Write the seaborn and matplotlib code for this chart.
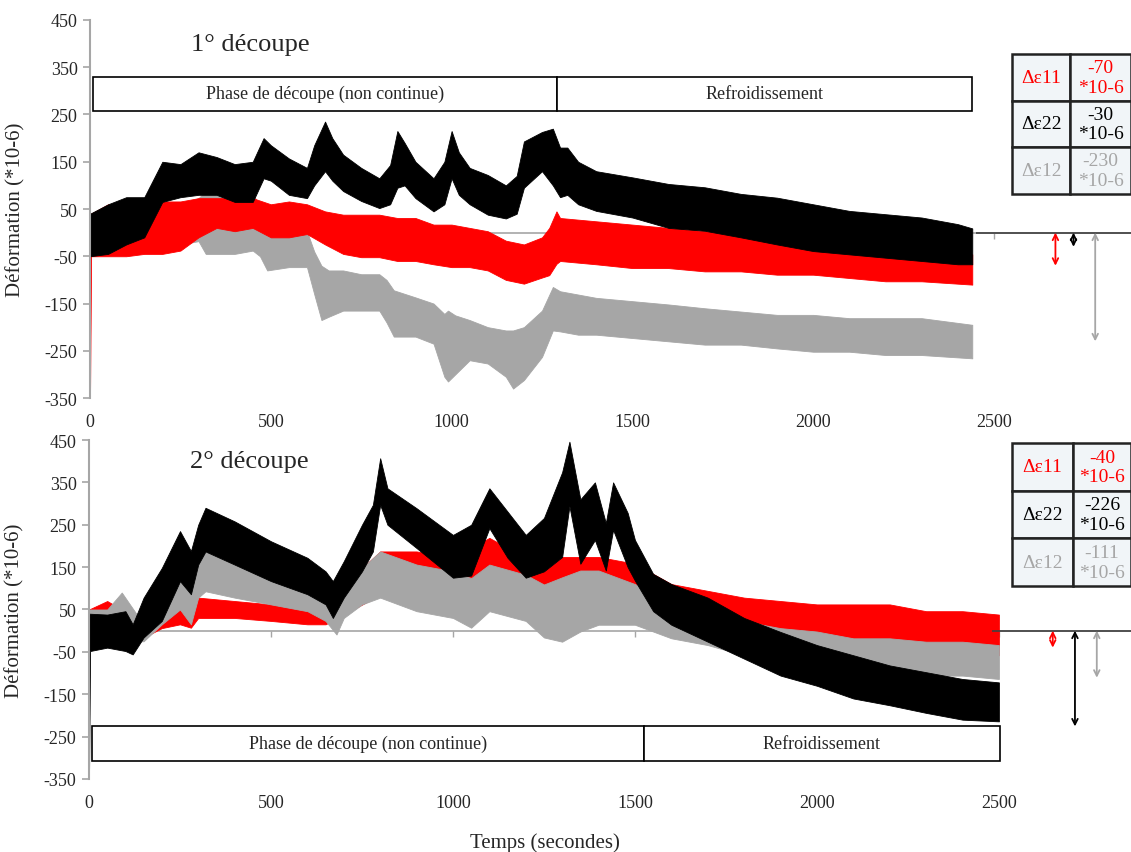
import pandas as pd
import seaborn as sns
from matplotlib import pyplot as plt
from matplotlib.patches import Rectangle

# ---- data (time in s, envelope low/high in *10-6) ----
# 1° découpe
t1_e22 = [0, 50, 100, 150, 200, 250, 300, 350, 400, 450, 480, 500, 550, 600, 620, 650, 670, 700, 750, 800,
          830, 850, 870, 900, 950, 980, 1000, 1020, 1050, 1100, 1150, 1180, 1200, 1250, 1280, 1300, 1320, 1350,
          1400, 1500, 1600, 1700, 1800, 1900, 2000, 2100, 2200, 2300, 2400, 2440]
hi1_e22 = [40, 60, 75, 75, 150, 145, 170, 160, 145, 150, 200, 185, 157, 137, 185, 235, 200, 165, 137, 115,
           143, 215, 190, 150, 115, 150, 215, 170, 137, 122, 100, 120, 193, 213, 220, 180, 180, 150,
           130, 117, 103, 96, 82, 74, 60, 46, 39, 32, 18, 9]
lo1_e22 = [-50, -45, -25, -10, 65, 75, 80, 80, 65, 65, 115, 110, 80, 73, 100, 130, 110, 88, 67, 52,
           60, 95, 100, 73, 45, 60, 115, 80, 60, 38, 30, 40, 95, 130, 100, 75, 80, 60,
           46, 32, 10, 4, -10, -25, -39, -46, -53, -60, -67, -67]

t1_e11 = [0, 3, 50, 100, 150, 200, 250, 300, 350, 400, 450, 500, 550, 600, 650, 700, 750, 800, 850, 900,
          950, 1000, 1050, 1100, 1150, 1200, 1250, 1270, 1290, 1300, 1400, 1500, 1600, 1700, 1800, 1900,
          2000, 2100, 2200, 2300, 2440]
hi1_e11 = [40, 40, 60, 50, 30, 66, 66, 73, 73, 73, 73, 60, 66, 60, 45, 38, 38, 38, 31, 31,
           17, 17, 10, 3, -17, -25, -10, 10, 45, 31, 24, 17, 10, 3, -3, -10,
           -18, -25, -32, -39, -46]
lo1_e11 = [-350, -50, -50, -50, -45, -45, -38, -10, 10, 3, 10, -10, -10, -3, -25, -45, -52, -52, -60, -60,
           -67, -73, -73, -80, -100, -108, -95, -90, -66, -60, -67, -75, -75, -82, -82, -89,
           -89, -96, -103, -103, -110]

t1_e12 = [0, 50, 100, 150, 200, 250, 300, 320, 400, 450, 470, 490, 550, 600, 620, 640, 660, 700, 750, 800,
          820, 840, 900, 950, 980, 990, 1010, 1050, 1100, 1150, 1170, 1200, 1250, 1280, 1300, 1350, 1400,
          1500, 1600, 1700, 1800, 1900, 2000, 2100, 2200, 2300, 2440]
hi1_e12 = [10, 5, 0, 3, 66, 60, 73, 88, 73, 80, 60, 3, 10, 3, -40, -70, -80, -80, -88, -88,
           -100, -122, -137, -150, -172, -165, -175, -185, -200, -207, -207, -200, -165, -115, -124, -131, -138,
           -145, -152, -160, -167, -174, -174, -181, -181, -181, -195]
lo1_e12 = [-45, -40, -40, -25, -10, -25, -18, -45, -45, -38, -50, -80, -73, -73, -130, -185, -178, -165, -165, -165,
           -190, -220, -220, -235, -305, -315, -300, -270, -277, -305, -330, -312, -263, -207, -209, -216, -216,
           -223, -230, -237, -237, -245, -252, -252, -259, -259, -266]

# 2° découpe
t2_e22 = [0, 3, 50, 100, 120, 150, 200, 250, 280, 300, 320, 400, 500, 600, 650, 670, 700, 750, 780, 800,
          820, 900, 1000, 1050, 1100, 1150, 1200, 1250, 1300, 1320, 1350, 1390, 1420, 1440, 1480, 1500, 1550,
          1600, 1700, 1800, 1900, 2000, 2100, 2200, 2300, 2400, 2500]
hi2_e22 = [40, 40, 38, 46, 15, 78, 148, 235, 188, 250, 290, 258, 211, 172, 140, 117, 164, 250, 297, 407,
           336, 289, 226, 250, 336, 281, 226, 266, 374, 446, 310, 350, 254, 350, 278, 214, 134,
           110, 78, 30, -3, -34, -58, -82, -98, -114, -122]
lo2_e22 = [-350, -48, -40, -48, -56, -16, 23, 117, 86, 156, 187, 156, 117, 86, 62, 30, 78, 140, 187, 297,
           250, 195, 125, 130, 242, 172, 125, 140, 174, 294, 158, 214, 142, 238, 150, 118, 46,
           14, -26, -66, -106, -130, -160, -176, -194, -210, -214]

t2_e11 = [0, 50, 100, 150, 200, 250, 280, 300, 400, 500, 600, 650, 700, 800, 900, 1000, 1100, 1200, 1250,
          1300, 1400, 1500, 1600, 1700, 1800, 1900, 2000, 2100, 2200, 2300, 2400, 2500]
hi2_e11 = [50, 70, 45, 30, 38, 62, 30, 78, 70, 62, 46, 38, 108, 187, 187, 172, 219, 172, 140,
           174, 174, 158, 110, 94, 78, 70, 62, 62, 62, 46, 46, 38]
lo2_e11 = [-30, -30, -30, -16, 6, 15, 7, 30, 30, 23, 15, 15, 38, 85, 78, 70, 93, 62, 46,
           46, 46, 46, 14, -2, -18, -26, -34, -42, -42, -50, -50, -58]

t2_e12 = [0, 50, 90, 150, 200, 250, 280, 300, 320, 400, 500, 600, 650, 680, 700, 750, 800, 900, 1000, 1050,
          1100, 1200, 1250, 1300, 1350, 1400, 1500, 1600, 1700, 1800, 1900, 2000, 2100, 2200, 2300, 2400, 2500]
hi2_e12 = [50, 50, 90, 15, 86, 156, 94, 180, 187, 156, 124, 100, 85, 53, 108, 148, 187, 156, 140, 124,
           156, 132, 109, 126, 142, 142, 110, 62, 30, 22, 6, -2, -18, -18, -26, -26, -34]
lo2_e12 = [-25, -25, -25, -25, 15, 50, 15, 78, 93, 78, 62, 46, 23, -9, 30, 62, 78, 46, 30, 7,
           46, 23, -16, -26, -2, 14, 14, -18, -34, -58, -74, -82, -90, -98, -106, -106, -114]

names = ["Δε11", "Δε22", "Δε12"]
delta1 = [-70, -30, -230]
delta2 = [-40, -226, -111]
phases = ["Phase de découpe (non continue)", "Refroidissement"]
phase1_edges = [8, 1291, 2439]
phase2_edges = [8, 1525, 2503]
colors = {"Δε11": "#ff0000", "Δε22": "#000000", "Δε12": "#a6a6a6"}
grey = "#a6a6a6"


def long_df(series):
    rows = []
    for name, t, lo, hi in series:
        for ti, l, h in zip(t, lo, hi):
            rows.append((name, ti, l))
            rows.append((name, ti, h))
    return pd.DataFrame(rows, columns=["serie", "t", "v"])


sns.set_style("white")
plt.rcParams["font.family"] = ["Liberation Serif", "DejaVu Serif"]
plt.rcParams["axes.unicode_minus"] = False

fig = plt.figure(figsize=(11.31, 8.53), dpi=100)
ax1 = fig.add_axes([0.0796, 0.5322, 0.9204, 0.4432])
ax2 = fig.add_axes([0.0787, 0.0856, 0.9213, 0.3974])

panels = [
    (ax1, long_df([("Δε12", t1_e12, lo1_e12, hi1_e12), ("Δε11", t1_e11, lo1_e11, hi1_e11),
                   ("Δε22", t1_e22, lo1_e22, hi1_e22)]),
     ["Δε12", "Δε11", "Δε22"], 2879, "1° découpe", delta1, phase1_edges, (258, 330),
     [2670, 2720, 2780], 2450, [0.886, 0.540, 0.114, 0.370], [0.49, 0.51]),
    (ax2, long_df([("Δε11", t2_e11, lo2_e11, hi2_e11), ("Δε12", t2_e12, lo2_e12, hi2_e12),
                   ("Δε22", t2_e22, lo2_e22, hi2_e22)]),
     ["Δε11", "Δε12", "Δε22"], 2863, "2° découpe", delta2, phase2_edges, (-307, -225),
     [2648, 2709, 2769], 2480, [0.886, 0.569, 0.114, 0.422], [0.51, 0.49]),
]

for ax, df, order, xmax, title, deltas, edges, (ylo, yhi), arrow_x, dark_from, tbbox, cw in panels:
    sns.lineplot(data=df, x="t", y="v", hue="serie", hue_order=order, palette=colors,
                 estimator="mean", errorbar=("pi", 100), lw=0, legend=False, ax=ax,
                 err_kws={"alpha": 1, "linewidth": 0.6})
    ax.set_xlim(0, xmax)
    ax.set_ylim(-350, 450)
    ax.set_yticks(range(-350, 451, 100))
    ax.set_xticks(range(0, 2501, 500))
    ax.set_xlabel("")
    ax.set_ylabel("Déformation (*10-6)", fontsize=15)
    ax.yaxis.set_label_coords(-0.062, 0.5)
    for s in ["top", "right", "bottom"]:
        ax.spines[s].set_visible(False)
    ax.spines["left"].set_color(grey)
    ax.spines["left"].set_linewidth(1.5)
    ax.tick_params(axis="y", length=5, color=grey, width=1.2, labelsize=13, pad=4, left=True)
    ax.tick_params(axis="x", length=0, labelsize=13, pad=11, bottom=True)

    # horizontal axis crossing at zero
    sec = ax.secondary_xaxis(350 / 800)
    sec.set_xticks(range(0, 2501, 500))
    sec.tick_params(labelbottom=False, length=4, color=grey, width=1)
    sec.spines["bottom"].set_color(grey)
    sec.spines["bottom"].set_linewidth(1.2)
    ax.hlines(0, dark_from, xmax, color="#404040", lw=1.2, zorder=1)

    ax.text(0.154, 0.937, title, transform=ax.transAxes, fontsize=19, ha="center", va="center")

    # phase boxes
    for label, a, b in zip(phases, edges[:-1], edges[1:]):
        ax.add_patch(Rectangle((a, ylo), b - a, yhi - ylo, facecolor="white",
                               edgecolor="black", lw=1.2, zorder=5))
        ax.text((a + b) / 2, (ylo + yhi) / 2, label, ha="center", va="center", fontsize=13, zorder=6)

    # arrows for the residual strain
    for name, d, xa in zip(names, deltas, arrow_x):
        ax.annotate("", xy=(xa, d), xytext=(xa, 0),
                    arrowprops=dict(arrowstyle="<->", color=colors[name], lw=1.3,
                                    shrinkA=0, shrinkB=0))

    # table of values
    cells = [[n, f"{d}\n*10-6"] for n, d in zip(names, deltas)]
    tab = ax.table(cellText=cells, bbox=tbbox, colWidths=cw, cellLoc="center")
    tab.auto_set_font_size(False)
    tab.set_fontsize(14)
    for (r, c), cell in tab.get_celld().items():
        cell.set_facecolor("#f1f5f8")
        cell.set_edgecolor("#222222")
        cell.set_linewidth(1.8)
        cell.get_text().set_color(colors[names[r]])

fig.text(0.482, 0.012, "Temps (secondes)", fontsize=15, ha="center", va="center")
fig.savefig("out.png", dpi=100)
